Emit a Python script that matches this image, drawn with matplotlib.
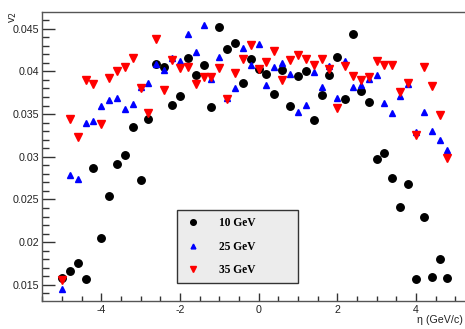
import matplotlib
matplotlib.use("Agg")
from matplotlib import pyplot as plt
from matplotlib.ticker import MultipleLocator

# eta bins
eta = [-5.0, -4.8, -4.6, -4.4, -4.2, -4.0, -3.8, -3.6, -3.4, -3.2,
       -3.0, -2.8, -2.6, -2.4, -2.2, -2.0, -1.8, -1.6, -1.4, -1.2,
       -1.0, -0.8, -0.6, -0.4, -0.2, 0.0, 0.2, 0.4, 0.6, 0.8,
       1.0, 1.2, 1.4, 1.6, 1.8, 2.0, 2.2, 2.4, 2.6, 2.8,
       3.0, 3.2, 3.4, 3.6, 3.8, 4.0, 4.2, 4.4, 4.6, 4.8]

# v2 for 10 GeV
v2_10 = [0.01575, 0.01664, 0.01755, 0.01567, 0.0287, 0.02048, 0.02541, 0.0292, 0.03026, 0.03348,
         0.02729, 0.03445, 0.0409, 0.04056, 0.0361, 0.0371, 0.04153, 0.03958, 0.04076, 0.03583,
         0.04522, 0.04264, 0.04334, 0.0386, 0.04146, 0.04032, 0.03974, 0.0373, 0.0402, 0.0359,
         0.03947, 0.0400, 0.0343, 0.03724, 0.03954, 0.04165, 0.03672, 0.04435, 0.0377, 0.03641,
         0.02979, 0.03043, 0.02756, 0.02416, 0.02682, 0.01567, 0.02291, 0.0159, 0.01798, 0.01582]

# v2 for 25 GeV
v2_25 = [0.01453, 0.02788, 0.02737, 0.0339, 0.03414, 0.03594, 0.03668, 0.03684, 0.03559, 0.03613,
         0.03817, 0.03868, 0.04083, 0.04017, 0.04153, 0.04126, 0.0444, 0.04232, 0.04549, 0.03915,
         0.0417, 0.03684, 0.0381, 0.04275, 0.04076, 0.04326, 0.03841, 0.04052, 0.041, 0.03965,
         0.03528, 0.03606, 0.03993, 0.03817, 0.0406, 0.03684, 0.04123, 0.03813, 0.03844, 0.03911,
         0.03954, 0.03633, 0.03508, 0.03715, 0.03853, 0.03293, 0.03528, 0.03304, 0.03195, 0.03078]

# v2 for 35 GeV
v2_35 = [0.01555, 0.03445, 0.0323, 0.03903, 0.03848, 0.03383, 0.03919, 0.04, 0.04052, 0.04162,
         0.03806, 0.03516, 0.04381, 0.03782, 0.04138, 0.04044, 0.04052, 0.03853, 0.03938, 0.0393,
         0.0404, 0.03677, 0.03985, 0.04141, 0.04314, 0.04032, 0.04106, 0.04244, 0.039, 0.04134,
         0.04189, 0.04141, 0.04071, 0.04141, 0.04032, 0.03566, 0.04064, 0.03947, 0.03903, 0.03938,
         0.04126, 0.04076, 0.04079, 0.03762, 0.03864, 0.03254, 0.04052, 0.0383, 0.03489, 0.02984]

plt.rcParams['font.family'] = ['Liberation Sans', 'DejaVu Sans']
plt.rcParams['axes.unicode_minus'] = False

fig = plt.figure(figsize=(4.65, 3.29), dpi=100)
ax = fig.add_axes([0.091, 0.0851, 0.9303, 0.8784])

ax.plot(eta, v2_10, 'o', color='black', ms=5.4, mec='black', label='10 GeV')
ax.plot(eta, v2_25, '^', color='#0000ff', ms=4.6, mec='#0000ff', label='25 GeV')
ax.plot(eta, v2_35, 'v', color='#ff0000', ms=5.2, mec='#ff0000', label='35 GeV')

ax.set_xlim(-5.5, 5.5)
ax.set_ylim(0.0131, 0.04696)

ax.xaxis.set_major_locator(MultipleLocator(2))
ax.xaxis.set_minor_locator(MultipleLocator(0.5))
ax.yaxis.set_major_locator(MultipleLocator(0.005))
ax.yaxis.set_minor_locator(MultipleLocator(0.001))
ax.yaxis.set_major_formatter(matplotlib.ticker.FuncFormatter(lambda v, p: ('%.3f' % v).rstrip('0')))

ax.tick_params(axis='both', which='both', direction='in', labelsize=7.7,
               colors='#333333', labelcolor='#222222')
ax.tick_params(axis='y', which='major', length=9.5, width=1, pad=2.5)
ax.tick_params(axis='y', which='minor', length=5, width=1)
ax.tick_params(axis='x', which='major', length=6, width=1, pad=3)
ax.tick_params(axis='x', which='minor', length=3.5, width=1)
ax.tick_params(top=False, right=False, which='both')

for s in ax.spines.values():
    s.set_color('#555555')
    s.set_linewidth(1)

fig.text(0.028, 0.966, 'v$_2$', rotation=90, ha='center', va='top', fontsize=8, color='#222222')
fig.text(0.995, 0.012, 'η (GeV/c)', ha='right', va='bottom', fontsize=7.7, color='#222222')

leg = ax.legend(loc='lower left', bbox_to_anchor=(0.3107, 0.0612, 0.2797, 0.2537),
                mode='expand', borderaxespad=0, borderpad=0.6, handlelength=1.6,
                handletextpad=1.5, labelspacing=1.0, markerscale=0.75, fancybox=False,
                framealpha=1,
                prop={'family': 'Liberation Serif', 'weight': 'bold', 'size': 8.3})
leg.get_frame().set_facecolor('#ececec')
leg.get_frame().set_edgecolor('#333333')
leg.get_frame().set_linewidth(1)

fig.savefig('out.png', dpi=100)
